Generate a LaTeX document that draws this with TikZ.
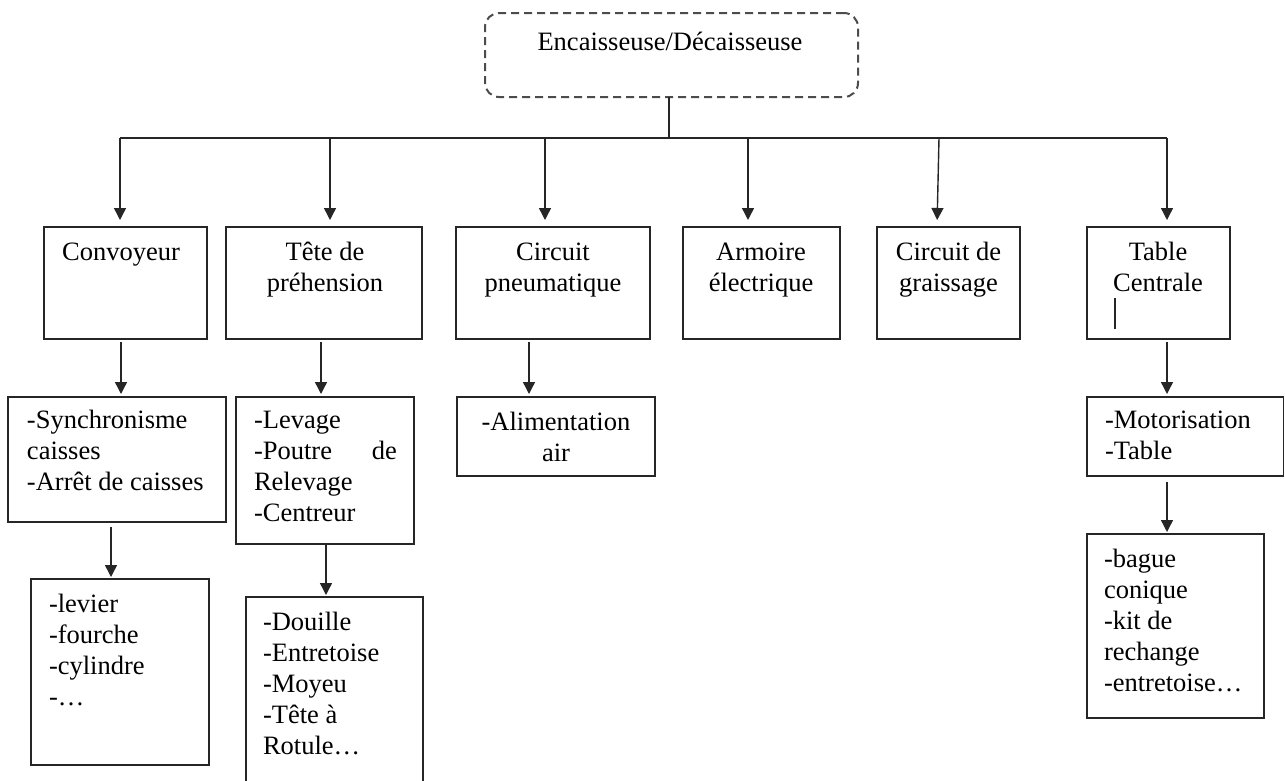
\documentclass[tikz,border=0pt]{standalone}
\usepackage{fontspec}
\setmainfont{Liberation Serif}
\usetikzlibrary{arrows.meta}
\begin{document}
\begin{tikzpicture}[x=1pt,y=-1pt,
  box/.style={draw=black!85, line width=1.4pt, inner sep=0pt, outer sep=0pt, anchor=north west},
  rootbox/.style={draw=black!70, line width=2pt, dash pattern=on 8pt off 5pt, rounded corners=14pt, inner sep=0pt, outer sep=0pt, anchor=north west},
  txt/.style={inner sep=0pt, outer sep=0pt, font=\fontsize{26.5}{31}\selectfont, align=left, anchor=north west},
  ctxt/.style={inner sep=0pt, outer sep=0pt, font=\fontsize{26.5}{31}\selectfont, align=center, anchor=north},
  link/.style={draw=black!85, line width=1.4pt},
  arr/.style={link, -{Triangle[length=12pt,width=12pt]}, shorten <=3pt, shorten >=3pt}]
\useasboundingbox (0,0) rectangle (1285,780);
\fill[white] (0,0) rectangle (1285,780);
\clip (0,0) rectangle (1285,780);

% root
\node[rootbox, minimum width=373pt, minimum height=84pt] (root) at (485,13) {};
\node[ctxt] (roott) at (670,28.3) {\strut Encaisseuse/Décaisseuse};

% first level
\node[box, minimum width=163pt, minimum height=112pt] (conv) at (44,227) {};
\node[box, minimum width=196pt, minimum height=112pt] (tete) at (226,227) {};
\node[box, minimum width=194pt, minimum height=112pt] (pneu) at (456,227) {};
\node[box, minimum width=157pt, minimum height=112pt] (armo) at (683,227) {};
\node[box, minimum width=143pt, minimum height=112pt] (grai) at (877,227) {};
\node[box, minimum width=143pt, minimum height=112pt] (tabc) at (1087,227) {};

\node[ctxt] (convt) at (121,238.8) {\strut Convoyeur};
\node[ctxt] (tetet) at (325,238.8) {\strut Tête de\\préhension};
\node[ctxt] (pneut) at (553,238.8) {\strut Circuit\\pneumatique};
\node[ctxt] (armot) at (761,238.8) {\strut Armoire\\électrique};
\node[ctxt] (grait) at (948.5,238.8) {\strut Circuit de\\graissage};
\node[ctxt] (tabct) at (1158,238.8) {\strut Table\\Centrale};
\draw[link] (1115,298) -- (1115,329);

% second level
\node[box, minimum width=218pt, minimum height=125pt] (sync) at (8,397) {};
\node[box, minimum width=178pt, minimum height=147pt] (leva) at (236,397) {};
\node[box, minimum width=198pt, minimum height=79pt] (alim) at (457,397) {};
\node[box, minimum width=196.5pt, minimum height=79pt] (moto) at (1087,397) {};

\node[txt] (synct) at (27,406.3) {\strut -Synchronisme\\caisses\\-Arrêt de caisses};
\node[txt] (levat) at (254,406.3) {\strut -Levage\\\makebox[143pt][l]{-Poutre\hfill de}\\Relevage\\-Centreur};
\node[ctxt] (alimt) at (556,408.3) {\strut -Alimentation\\air};
\node[txt] (motot) at (1105,406.3) {\strut -Motorisation\\-Table};

% third level
\node[box, minimum width=178pt, minimum height=186pt] (levi) at (31,579) {};
\node[box, minimum width=177pt, minimum height=200pt] (doui) at (246,597) {};
\node[box, minimum width=177pt, minimum height=184pt] (bague) at (1087,534) {};

\node[txt] (levit) at (49,590.3) {\strut -levier\\-fourche\\-cylindre\\-…};
\node[txt] (douit) at (263,608.3) {\strut -Douille\\-Entretoise\\-Moyeu\\-Tête à\\Rotule…};
\node[txt] (baguet) at (1104,545.3) {\strut -bague\\conique\\-kit de\\rechange\\-entretoise…};

% distribution bus
\coordinate (b1) at (120,138);
\coordinate (b2) at (330,138);
\coordinate (b3) at (545,138);
\coordinate (b4) at (748,138);
\coordinate (b5) at (939,138);
\coordinate (b6) at (1167,138);
\draw[link] (root.south -| 669,0) -- (669,138);
\draw[link] (b1) -- (b6);
\draw[arr, shorten <=0pt, shorten >=7pt] (b1) -- (b1 |- conv.north);
\draw[arr, shorten <=0pt, shorten >=7pt] (b2) -- (b2 |- tete.north);
\draw[arr, shorten <=0pt, shorten >=7pt] (b3) -- (b3 |- pneu.north);
\draw[arr, shorten <=0pt, shorten >=7pt] (b4) -- (b4 |- armo.north);
\draw[arr, shorten <=0pt, shorten >=7pt] (b5) -- ([xshift=-2pt]b5 |- grai.north);
\draw[arr, shorten <=0pt, shorten >=7pt] (b6) -- (b6 |- tabc.north);

% level links
\coordinate (c1) at (121,0);
\coordinate (c2) at (321,0);
\coordinate (c3) at (529,0);
\coordinate (c4) at (1167,0);
\coordinate (c5) at (111,0);
\coordinate (c6) at (326,0);
\draw[arr] (c1 |- conv.south) -- (c1 |- sync.north);
\draw[arr] (c2 |- tete.south) -- (c2 |- leva.north);
\draw[arr] (c3 |- pneu.south) -- (c3 |- alim.north);
\draw[arr] (c4 |- tabc.south) -- (c4 |- moto.north);
\draw[arr, shorten <=5pt, shorten >=2pt] (c5 |- sync.south) -- (c5 |- levi.north);
\draw[arr, shorten <=1pt, shorten >=2pt] (c6 |- leva.south) -- (c6 |- doui.north);
\draw[arr, shorten <=6pt, shorten >=2pt] (c4 |- moto.south) -- (c4 |- bague.north);
\end{tikzpicture}
\end{document}
